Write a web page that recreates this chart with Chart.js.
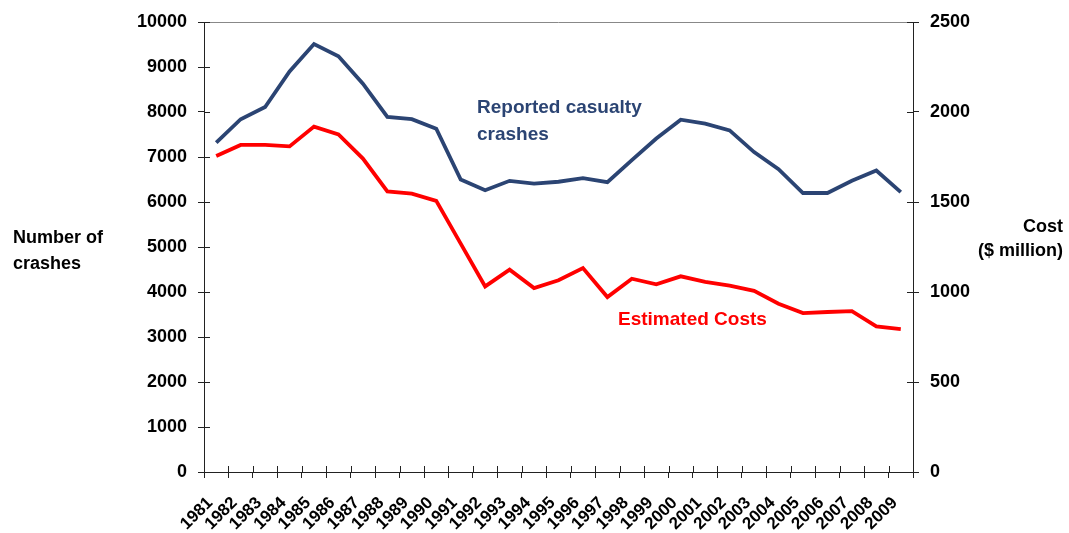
<!DOCTYPE html>
<html>
<head>
<meta charset="utf-8">
<script src="https://cdn.jsdelivr.net/npm/chart.js@4.4.0/dist/chart.umd.min.js"></script>
<style>
  html, body { margin: 0; padding: 0; background: #fff; }
  #wrap { width: 1069px; height: 533px; position: relative; }
</style>
</head>
<body>
<div id="wrap"><canvas id="crashChart"></canvas></div>
<script>
// Chart data
const years = ['1981','1982','1983','1984','1985','1986','1987','1988','1989','1990',
  '1991','1992','1993','1994','1995','1996','1997','1998','1999','2000',
  '2001','2002','2003','2004','2005','2006','2007','2008','2009'];
const crashes = [7320, 7840, 8110, 8900, 9510, 9240, 8630, 7890, 7840, 7630,
  6500, 6260, 6470, 6410, 6450, 6530, 6440, 6930, 7410, 7830,
  7740, 7590, 7110, 6730, 6200, 6200, 6470, 6700, 6220];
const costs = [1755, 1817, 1817, 1809, 1919, 1876, 1741, 1559, 1546, 1506,
  1269, 1031, 1124, 1022, 1065, 1133, 972, 1074, 1043, 1087,
  1056, 1035, 1006, 935, 883, 889, 894, 809, 794];

const BLUE = '#2b4473';
const RED = '#ff0000';
const FONT = '"Liberation Sans", Arial, sans-serif';

// Axis titles, annotations, inward tick marks and top border
const decorPlugin = {
  id: 'decor',
  afterDraw(chart) {
    const ctx = chart.ctx;
    const area = chart.chartArea;
    const { x, y, y2 } = chart.scales;
    ctx.save();

    // top border
    ctx.strokeStyle = '#888';
    ctx.lineWidth = 1;
    ctx.beginPath();
    ctx.moveTo(area.left, area.top + 0.5);
    ctx.lineTo(area.right, area.top + 0.5);
    ctx.stroke();

    // inward tick marks
    ctx.strokeStyle = '#222';
    ctx.beginPath();
    y.ticks.forEach((t, i) => {
      const py = Math.round(y.getPixelForTick(i)) + 0.5;
      ctx.moveTo(area.left, py); ctx.lineTo(area.left + 6, py);
    });
    y2.ticks.forEach((t, i) => {
      const py = Math.round(y2.getPixelForTick(i)) + 0.5;
      ctx.moveTo(area.right, py); ctx.lineTo(area.right - 6, py);
    });
    for (let i = 0; i <= years.length; i++) {
      const px = Math.round(x.left + (x.right - x.left) * i / years.length) + 0.5;
      ctx.moveTo(px, area.bottom); ctx.lineTo(px, area.bottom - 6);
    }
    ctx.stroke();

    // axis titles
    ctx.fillStyle = '#000';
    ctx.font = 'bold 18px ' + FONT;
    ctx.textAlign = 'left';
    ctx.textBaseline = 'alphabetic';
    ctx.fillText('Number of', 13, 243);
    ctx.fillText('crashes', 13, 269);
    ctx.textAlign = 'right';
    ctx.fillText('Cost', 1063, 232);
    ctx.fillText('($ million)', 1063, 256);

    // series annotations
    ctx.font = 'bold 19px ' + FONT;
    ctx.textAlign = 'left';
    ctx.fillStyle = BLUE;
    ctx.fillText('Reported casualty', 477, 113);
    ctx.fillText('crashes', 477, 140);
    ctx.fillStyle = RED;
    ctx.fillText('Estimated Costs', 618, 325);
    ctx.restore();
  }
};

const plainNumber = v => String(v);

new Chart(document.getElementById('crashChart'), {
  type: 'line',
  data: {
    labels: years,
    datasets: [
      {
        label: 'Reported casualty crashes',
        data: crashes,
        yAxisID: 'y',
        borderColor: BLUE,
        borderWidth: 3.8,
        pointRadius: 0,
        tension: 0
      },
      {
        label: 'Estimated Costs',
        data: costs,
        yAxisID: 'y2',
        borderColor: RED,
        borderWidth: 3.8,
        pointRadius: 0,
        tension: 0
      }
    ]
  },
  options: {
    responsive: true,
    maintainAspectRatio: false,
    animation: false,
    layout: { padding: { top: 22, left: 0, right: 0, bottom: 0 } },
    plugins: {
      legend: { display: false },
      tooltip: { enabled: false }
    },
    scales: {
      x: {
        offset: true,
        grid: { offset: true, drawOnChartArea: false, color: '#222', tickLength: 6 },
        border: { color: '#222' },
        ticks: {
          autoSkip: false,
          maxRotation: 45,
          minRotation: 45,
          padding: 15,
          labelOffset: -6,
          color: '#000',
          font: { family: FONT, size: 17, weight: 'bold' }
        },
        afterFit(scale) { scale.height = 61; }
      },
      y: {
        position: 'left',
        min: 0,
        max: 10000,
        grid: { drawOnChartArea: false, color: '#222', tickLength: 6 },
        border: { color: '#222' },
        ticks: {
          stepSize: 1000,
          padding: 11,
          color: '#000',
          callback: plainNumber,
          font: { family: FONT, size: 18, weight: 'bold' }
        },
        afterFit(scale) { scale.width = 204; }
      },
      y2: {
        position: 'right',
        min: 0,
        max: 2500,
        grid: { drawOnChartArea: false, color: '#222', tickLength: 6 },
        border: { color: '#222' },
        ticks: {
          stepSize: 500,
          padding: 11,
          color: '#000',
          callback: plainNumber,
          font: { family: FONT, size: 18, weight: 'bold' }
        },
        afterFit(scale) { scale.width = 156; }
      }
    }
  },
  plugins: [decorPlugin]
});
</script>
</body>
</html>
